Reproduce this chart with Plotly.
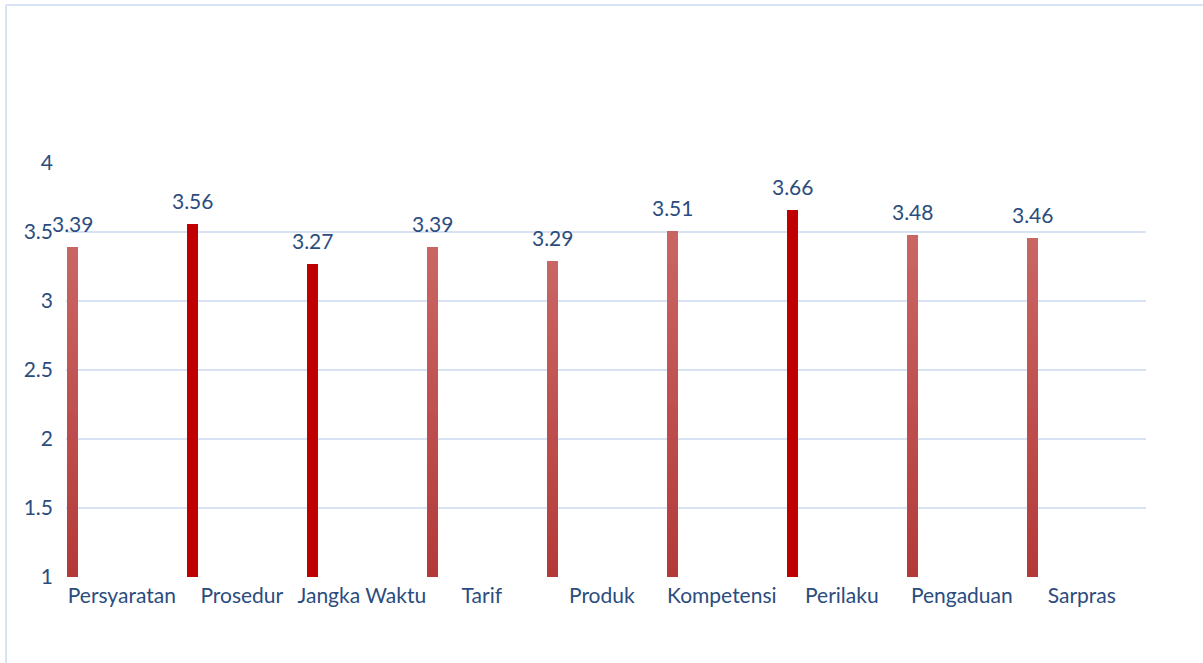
import plotly.graph_objects as go

categories = ["Persyaratan", "Prosedur", "Jangka Waktu", "Tarif", "Produk",
              "Kompetensi", "Perilaku", "Pengaduan", "Sarpras"]
values = [3.39, 3.56, 3.27, 3.39, 3.29, 3.51, 3.66, 3.48, 3.46]
solid = [False, True, True, False, False, False, True, False, False]
y_ticks = [1, 1.5, 2, 2.5, 3, 3.5, 4]

TEXT = "#2B4C7E"
GRID = "#D9E2F3"
FONT = "Lato, Carlito, sans-serif"
FS = 21
BAR_W = 0.092
OFF = 0.01 + BAR_W / 2
N_SEG = 40
TOP_RGB = (201, 102, 100)
BOT_RGB = (180, 58, 58)

fig = go.Figure()

# solid bars
sx = [i + OFF for i, s in enumerate(solid) if s]
sy = [v - 1 for v, s in zip(values, solid) if s]
fig.add_trace(go.Bar(x=sx, y=sy, base=1, width=BAR_W, marker_color="#C00000",
                     marker_line_width=0, showlegend=False, hoverinfo="skip"))

# gradient bars built as stacked slices
gx = [i + OFF for i, s in enumerate(solid) if not s]
gv = [v for v, s in zip(values, solid) if not s]
for k in range(N_SEG):
    t = k / (N_SEG - 1)
    c = tuple(round(b + (a - b) * t) for a, b in zip(TOP_RGB, BOT_RGB))
    bases = [1 + (v - 1) * k / N_SEG for v in gv]
    hs = [(v - 1) / N_SEG * 1.02 if k < N_SEG - 1 else (v - 1) / N_SEG for v in gv]
    fig.add_trace(go.Bar(x=gx, y=hs, base=bases, width=BAR_W,
                         marker_color="rgb(%d,%d,%d)" % c, marker_line_width=0,
                         showlegend=False, hoverinfo="skip"))

# value labels
fig.add_trace(go.Scatter(x=[i + OFF for i in range(len(values))], y=values,
                         mode="markers+text", text=["%.2f" % v for v in values],
                         textposition="top center", cliponaxis=False,
                         marker=dict(size=14, color="rgba(0,0,0,0)"),
                         textfont=dict(family=FONT, size=FS, color=TEXT),
                         showlegend=False, hoverinfo="skip"))

fig.update_layout(
    width=1203, height=663,
    margin=dict(l=66, r=57, t=163, b=86),
    paper_bgcolor="white", plot_bgcolor="white",
    barmode="overlay", bargap=0,
    font=dict(family=FONT, size=FS, color=TEXT),
)
fig.update_xaxes(range=[0, 9], tickvals=[i + 0.465 for i in range(9)],
                 ticktext=categories, showgrid=False, zeroline=False,
                 showline=False, ticks="", ticklabelstandoff=4,
                 tickfont=dict(family=FONT, size=FS, color=TEXT),
                 fixedrange=True)
fig.update_yaxes(range=[1, 4], tickvals=y_ticks,
                 ticktext=[("%g" % t) for t in y_ticks],
                 showgrid=True, gridcolor=GRID, gridwidth=2, zeroline=False,
                 showline=False, ticks="", ticklabelstandoff=12,
                 tickfont=dict(family=FONT, size=FS, color=TEXT), fixedrange=True)

# chart border (left and top)
fig.add_shape(type="line", xref="paper", yref="paper",
              x0=(6 - 66) / 1080, x1=(6 - 66) / 1080, y0=-0.3, y1=(663 - 5 - 86) / 414,
              line=dict(color=GRID, width=2))
fig.add_shape(type="line", xref="paper", yref="paper",
              x0=(6 - 66) / 1080, x1=1.1, y0=(663 - 5 - 86) / 414, y1=(663 - 5 - 86) / 414,
              line=dict(color=GRID, width=2))

fig.write_html("out.html")
